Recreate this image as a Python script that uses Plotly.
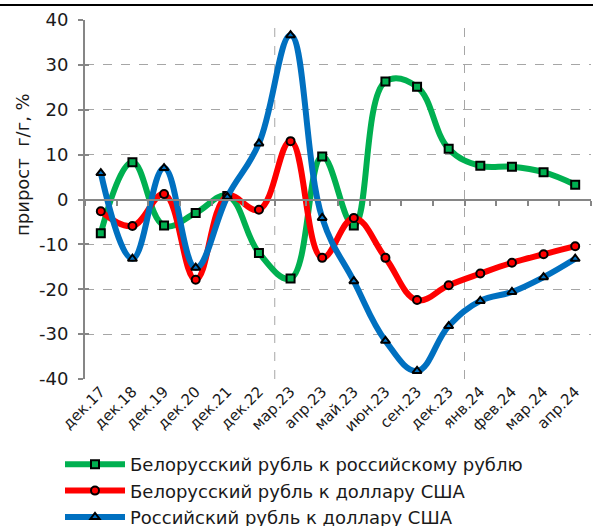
import plotly.graph_objects as go

categories = ["дек.17", "дек.18", "дек.19", "дек.20", "дек.21", "дек.22", "мар.23", "апр.23",
              "май.23", "июн.23", "сен.23", "дек.23", "янв.24", "фев.24", "мар.24", "апр.24"]
byn_rub = [-7.5, 8.3, -5.8, -3.0, 0.8, -11.9, -17.6, 9.6, -5.8, 26.3, 25.1, 11.3, 7.5, 7.3, 6.1, 3.3]
byn_usd = [-2.6, -5.9, 1.2, -17.9, 0.8, -2.3, 13.0, -13.0, -4.1, -13.0, -22.4, -19.1, -16.5, -14.1, -12.2, -10.4]
rub_usd = [5.9, -13.2, 7.0, -15.2, 0.6, 12.5, 36.6, -4.1, -18.2, -31.5, -38.2, -28.2, -22.6, -20.6, -17.3, -13.2]
series_names = ["Белорусский рубль к российскому рублю",
                "Белорусский рубль к доллару США",
                "Российский рубль к доллару США"]
y_ticks = [-40, -30, -20, -10, 0, 10, 20, 30, 40]
y_tick_labels = [str(v) for v in y_ticks]

FONT = "DejaVu Sans"
TXT = "#1a1a1a"
GRID = "#a6a6a6"
AX = "#868686"
x_idx = list(range(len(categories)))

W, H = 593, 526
ML, MR, MT, MB = 85, 2, 20, 147
PW, PH = W - ML - MR, H - MT - MB

def px_to_paper_x(px):
    return (px - ML) / PW

def px_to_paper_y(py):
    return (H - MB - py) / PH

fig = go.Figure()
styles = [
    (byn_rub, "#00B050", "square"),
    (byn_usd, "#FF0000", "circle"),
    (rub_usd, "#0070C0", "triangle-up"),
]
for (vals, col, sym), name in zip(styles, series_names):
    fig.add_trace(go.Scatter(
        x=x_idx, y=vals, name=name, mode="lines+markers",
        line=dict(color=col, width=6, shape="spline", smoothing=1.15),
        marker=dict(symbol=sym, size=8, color=col, line=dict(color="#000000", width=2)),
    ))

shapes = []
for xv in [5.5, 11.5]:
    shapes.append(dict(type="line", xref="x", yref="y", x0=xv, x1=xv, y0=-40, y1=40,
                       line=dict(color=GRID, width=1, dash="dash"), layer="below"))

fig.update_layout(
    width=W, height=H,
    margin=dict(l=ML, r=MR, t=MT, b=MB, autoexpand=False),
    paper_bgcolor="white", plot_bgcolor="white",
    font=dict(family=FONT, size=15, color=TXT),
    showlegend=True,
    legend=dict(x=px_to_paper_x(60), y=px_to_paper_y(446), xanchor="left", yanchor="top",
                font=dict(family=FONT, size=18, color=TXT),
                tracegroupgap=0, itemwidth=60, bgcolor="rgba(0,0,0,0)"),
    xaxis=dict(range=[-0.5, 15.5], tickmode="array", tickvals=x_idx, ticktext=categories,
               tickangle=-45, showgrid=False, zeroline=False, showline=False,
               ticks="", tickfont=dict(size=15)),
    xaxis2=dict(range=[-0.5, 15.5], overlaying="x", anchor="free", position=0.5,
                side="bottom", tickmode="array", tickvals=[i + 0.5 for i in range(-1, 16)],
                showticklabels=False, ticks="outside", ticklen=5, tickwidth=1.5,
                tickcolor=AX, showline=True, linecolor=AX, linewidth=2,
                showgrid=False, zeroline=False),
    yaxis=dict(range=[-40, 40], tickmode="array", tickvals=y_ticks, ticktext=y_tick_labels,
               showgrid=True, gridcolor=GRID, griddash="dash", gridwidth=1,
               zeroline=False, showline=True, linecolor=AX, linewidth=2,
               ticks="outside", ticklen=5, tickcolor=AX, tickwidth=1.5,
               ticklabelstandoff=6, tickfont=dict(size=18)),
    yaxis2=dict(range=[-40, 40], overlaying="y", anchor="x", side="left",
                tickmode="array", tickvals=y_ticks, showticklabels=False,
                ticks="inside", ticklen=4, tickcolor=AX, tickwidth=1.5,
                showgrid=False, zeroline=False, showline=False),
    shapes=shapes,
    annotations=[
        dict(text="прирост  г/г, %", textangle=-90, xref="paper", yref="paper",
             x=px_to_paper_x(22), y=px_to_paper_y(165), xanchor="center",
             yanchor="middle", showarrow=False,
             font=dict(family=FONT, size=18, color=TXT)),
        # black rule at the very top of the picture
        dict(text=" ", xref="paper", yref="paper", x=px_to_paper_x(0), y=px_to_paper_y(3.5),
             xanchor="left", yanchor="top", showarrow=False, width=W, height=2,
             borderpad=0, borderwidth=0, bgcolor="#000000", font=dict(size=1)),
    ],
)
# invisible traces that activate the overlay axes (zero-line ticks, crossing y ticks)
fig.add_trace(go.Scatter(x=[0], y=[0], xaxis="x2", mode="markers",
                         marker=dict(opacity=0), showlegend=False, hoverinfo="skip"))
fig.add_trace(go.Scatter(x=[0], y=[0], yaxis="y2", mode="markers",
                         marker=dict(opacity=0), showlegend=False, hoverinfo="skip"))

fig.write_html("out.html", config={"displayModeBar": False},
               post_script="document.body.style.margin='0px';")
